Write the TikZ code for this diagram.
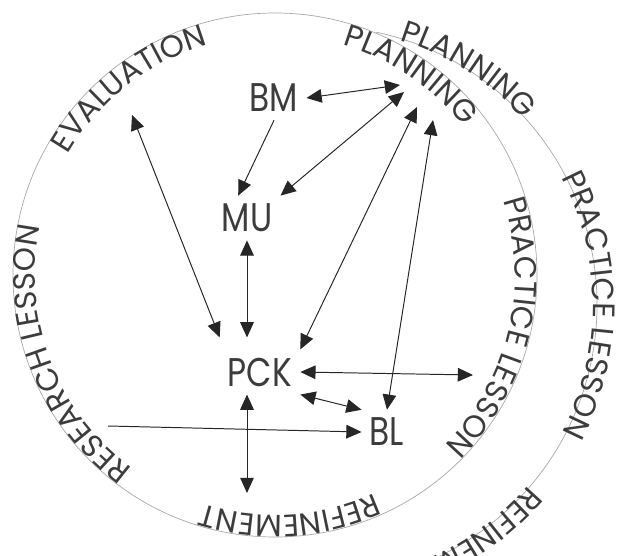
\documentclass[tikz,border=0pt]{standalone}
\usepackage{fontspec}
\setmainfont{Poppins}[FakeStretch=0.82]
\newfontfamily\ringfam{Poppins}
\usetikzlibrary{arrows.meta,decorations.text}
\definecolor{inkgray}{HTML}{3C3C3C}
\definecolor{ringgray}{HTML}{A8A8A8}
\newcommand\ringfont{\ringfam\fontsize{22pt}{24pt}\selectfont}
\tikzset{
  ring/.style={draw=ringgray, line width=0.5pt},
  concept/.style={font=\fontsize{28.5pt}{30pt}\selectfont, text=inkgray, inner sep=0.2cm},
  link/.style={{Triangle[length=0.38cm,width=0.34cm]}-{Triangle[length=0.38cm,width=0.34cm]}, line width=0.7pt, draw=black!85},
  feed/.style={-{Triangle[length=0.38cm,width=0.34cm]}, line width=0.7pt, draw=black!85},
  ringlabel/.style={decorate, decoration={text along path, text align=center, text color=inkgray, text={|\ringfont|#1}}}
}
\begin{document}
\begin{tikzpicture}[x=0.025cm, y=0.025cm]
    \useasboundingbox (0,0) rectangle (619,555);
    \clip (0,0) rectangle (619,555);

    % Circles
    \coordinate (ci) at (275,280);
    \coordinate (co) at (318,250);
    \draw[ring] (ci) circle[radius=262];
    \draw[ring] (co) ++(78:279) arc[start angle=78, end angle=-75, radius=279];

    % Inner cycle
    \path[ringlabel=EVALUATION] (ci) ++(168:240) arc[start angle=168, end angle=88, radius=240];
    \path[ringlabel=PLANNING] (ci) ++(96:240) arc[start angle=96, end angle=16, radius=240];
    \path[ringlabel=PRACTICE LESSON] (ci) ++(37:240) arc[start angle=37, end angle=-64, radius=240];
    \path[ringlabel=REFINEMENT] (ci) ++(-46:240) arc[start angle=-46, end angle=-127, radius=240];
    \path[ringlabel=RESEARCH LESSON] (ci) ++(251:240) arc[start angle=251, end angle=151, radius=240];

    % Outer cycle
    \path[ringlabel=PLANNING] (co) ++(100:277) arc[start angle=100, end angle=15, radius=277];
    \path[ringlabel=PRACTICE LESSON] (co) ++(50:275) arc[start angle=50, end angle=-50, radius=275];
    \path[decorate, decoration={text along path, text align=left, text color=inkgray, text={|\ringfont|REFINEMENT}}]
        (co) ++(-40.5:277) arc[start angle=-40.5, end angle=-120, radius=277];

    % Concepts
    \node[concept] (bm) at (274,457) {BM};
    \node[concept] (mu) at (247,337) {MU};
    \node[concept] (pck) at (260,183) {PCK};
    \node[concept] (bl) at (387,123) {BL};

    % Ends on the cycle
    \coordinate (planA) at (400,470);
    \coordinate (planB) at (404,463);
    \coordinate (planC) at (417,448);
    \coordinate (planD) at (433,435);
    \coordinate (eval) at (132,440);
    \coordinate (practice) at (473,180);
    \coordinate (refine) at (247,62);
    \coordinate (research) at (108,129);

    % Arrows
    \draw[link] (bm.east) -- (planA);
    \draw[feed] (bm.south) -- ([xshift=-0.22cm]mu.north);
    \draw[link] (mu.north east) -- (planB);
    \draw[link] (pck.north east) -- (planC);
    \draw[link] (bl.north) -- (planD);
    \draw[link] (eval) -- ([yshift=0.3cm]pck.north west);
    \draw[link, shorten >=0.3cm] (mu.south) -- (mu |- pck.north);
    \draw[link] (mu |- pck.south) -- (refine);
    \draw[link] (pck.east) -- (practice);
    \draw[link] (pck.south east) -- (bl.north west);
    \draw[feed] (research) -- (bl.west);
\end{tikzpicture}
\end{document}
